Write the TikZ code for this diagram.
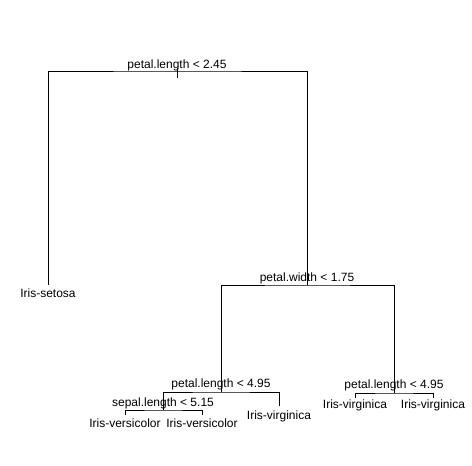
\documentclass[tikz,border=0pt]{standalone}
\usepackage{fontspec}
\setmainfont{Liberation Sans}
\begin{document}
\begin{tikzpicture}[x=1pt,y=-1pt,
  edge/.style={draw=black,line width=0.8pt},
  lab/.style={anchor=base,inner sep=0pt,font=\fontsize{12}{14}\selectfont}]
\useasboundingbox (0,0) rectangle (472,466);
% tree node positions
\coordinate (n1) at (177,71);
\coordinate (n1top) at (177,68);
\coordinate (n1bot) at (177,78);
\coordinate (setosa) at (48,285);
\coordinate (n2) at (307,285);
\coordinate (n3) at (221,392);
\coordinate (n4) at (163,410);
\coordinate (vc1) at (125,415);
\coordinate (vc2) at (202,415);
\coordinate (vg1) at (279,406);
\coordinate (n5) at (394,393);
\coordinate (vg2) at (355,398);
\coordinate (vg3) at (433,398);
% edges
\draw[edge] (n1top) -- (n1bot);
\draw[edge] (setosa) |- (n1) -| (n2);
\draw[edge] (n3) |- (n2) -| (n5);
\draw[edge] (n4) |- (n3) -| (vg1);
\draw[edge] (vc1) |- (n4) -| (vc2);
\draw[edge] (vg2) |- (n5) -| (vg3);
% split labels
\node[lab] (t1) at (177,68.5) {petal.length < 2.45};
\node[lab] (t2) at (307,281) {petal.width < 1.75};
\node[lab] (t3) at (221,387.5) {petal.length < 4.95};
\node[lab] (t4) at (163,406) {sepal.length < 5.15};
\node[lab] (t5) at (394,388) {petal.length < 4.95};
% leaf labels
\node[lab] (l1) at (48,297.5) {Iris-setosa};
\node[lab] (l2) at (125,427.5) {Iris-versicolor};
\node[lab] (l3) at (202,427.5) {Iris-versicolor};
\node[lab] (l4) at (279,419) {Iris-virginica};
\node[lab] (l5) at (355,408) {Iris-virginica};
\node[lab] (l6) at (433,408) {Iris-virginica};
\end{tikzpicture}
\end{document}
